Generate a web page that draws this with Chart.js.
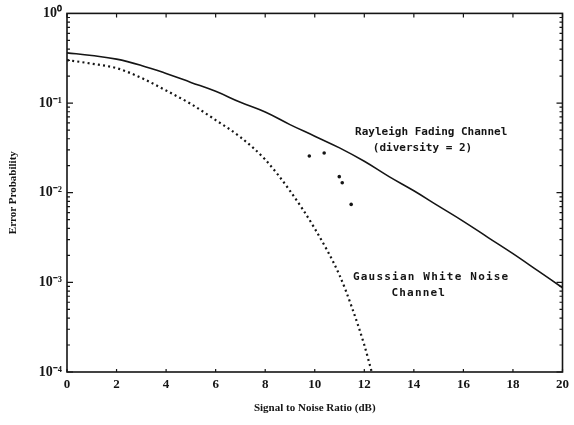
<!DOCTYPE html>
<html>
<head>
<meta charset="utf-8">
<script src="https://cdn.jsdelivr.net/npm/chart.js@4/dist/chart.umd.min.js"></script>
<style>
  html, body { margin: 0; padding: 0; background: #fff; }
  #wrap { width: 574px; height: 425px; }
</style>
</head>
<body>
<div id="wrap"><canvas id="grafico"></canvas></div>
<script>
// Dados
const snrRayleigh = [0, 1, 2, 3, 4, 5, 6, 7, 8, 9, 10, 11, 12, 13, 14, 15, 16, 17, 18, 19, 20];
const erroRayleigh = [0.363, 0.339, 0.309, 0.263, 0.214, 0.170, 0.135, 0.102, 0.0794, 0.0575, 0.0427,
  0.0316, 0.0224, 0.0151, 0.0105, 0.00708, 0.00479, 0.00316, 0.00209, 0.00135, 0.00087];

const snrGauss = [0, 1, 2, 3, 4, 5, 6, 7, 8, 9, 10, 11, 11.5, 12, 12.3];
const erroGauss = [0.302, 0.275, 0.245, 0.191, 0.138, 0.0977, 0.0646, 0.0417, 0.0234, 0.0105,
  0.00398, 0.00120, 0.000525, 0.000200, 0.0001];

const snrPontos = [9.78, 10.38, 10.99, 11.11, 11.47];
const erroPontos = [0.0257, 0.0277, 0.0151, 0.0129, 0.0074];

const xTicks = [0, 2, 4, 6, 8, 10, 12, 14, 16, 18, 20];
const yTicks = [1e-4, 1e-3, 1e-2, 1e-1, 1];
const yTickLabels = ['10⁻⁴', '10⁻³', '10⁻²', '10⁻¹', '10⁰'];

const notasTexto = ['Rayleigh Fading Channel', '(diversity = 2)', 'Gaussian White Noise', 'Channel'];
const notasX = [14.7, 14.35, 14.7, 14.2];
const notasY = [0.047, 0.0316, 0.00115, 0.00076];

const preto = '#151515';

const pares = (xs, ys) => xs.map((x, i) => ({ x: x, y: ys[i] }));

// Moldura, marcas dos eixos e textos
const moldura = {
  id: 'moldura',
  afterDraw(chart) {
    const ctx = chart.ctx;
    const a = chart.chartArea;
    const sx = chart.scales.x;
    const sy = chart.scales.y;
    ctx.save();
    ctx.strokeStyle = preto;
    ctx.lineWidth = 1.6;
    ctx.strokeRect(a.left, a.top, a.right - a.left, a.bottom - a.top);

    ctx.lineWidth = 1.2;
    ctx.beginPath();
    xTicks.forEach(v => {
      const px = sx.getPixelForValue(v);
      ctx.moveTo(px, a.top); ctx.lineTo(px, a.top + 4);
      ctx.moveTo(px, a.bottom); ctx.lineTo(px, a.bottom - 3);
    });
    for (let e = -4; e < 0; e++) {
      for (let m = 1; m <= 9; m++) {
        const py = sy.getPixelForValue(m * Math.pow(10, e));
        const len = m === 1 ? 6 : 3;
        ctx.moveTo(a.left, py); ctx.lineTo(a.left + len, py);
        ctx.moveTo(a.right, py); ctx.lineTo(a.right - len, py);
      }
    }
    ctx.stroke();

    ctx.fillStyle = preto;
    ctx.font = 'bold 11px "DejaVu Sans Mono"';
    ctx.textAlign = 'center';
    ctx.textBaseline = 'middle';
    notasTexto.forEach((t, i) => {
      ctx.letterSpacing = i >= 2 ? '1.2px' : '0px';
      ctx.fillText(t, sx.getPixelForValue(notasX[i]), sy.getPixelForValue(notasY[i]));
    });
    ctx.restore();
  }
};

new Chart(document.getElementById('grafico'), {
  type: 'line',
  data: {
    datasets: [
      {
        label: 'Rayleigh Fading Channel (diversity = 2)',
        data: pares(snrRayleigh, erroRayleigh),
        borderColor: preto,
        borderWidth: 1.6,
        pointRadius: 0,
        tension: 0.4
      },
      {
        label: 'Gaussian White Noise Channel',
        data: pares(snrGauss, erroGauss),
        borderColor: preto,
        borderWidth: 2.2,
        borderDash: [2, 3.2],
        pointRadius: 0,
        cubicInterpolationMode: 'monotone'
      },
      {
        label: 'pontos',
        data: pares(snrPontos, erroPontos),
        showLine: false,
        pointRadius: 1.8,
        pointBackgroundColor: preto,
        pointBorderWidth: 0
      }
    ]
  },
  options: {
    responsive: true,
    maintainAspectRatio: false,
    animation: false,
    layout: { padding: { top: 12, right: 11, left: 0, bottom: 0 } },
    plugins: {
      legend: { display: false },
      tooltip: { enabled: false }
    },
    scales: {
      x: {
        type: 'linear',
        min: 0,
        max: 20,
        afterBuildTicks: s => { s.ticks = xTicks.map(v => ({ value: v })); },
        afterFit: s => { s.height = 53; },
        grid: { display: false, drawTicks: false },
        border: { display: false },
        ticks: {
          autoSkip: false,
          maxRotation: 0,
          padding: 5,
          color: preto,
          font: { family: '"Liberation Serif"', size: 13, weight: 'bold' }
        },
        title: {
          display: true,
          text: 'Signal to Noise Ratio (dB)',
          color: preto,
          padding: { top: 0, bottom: 10 },
          font: { family: '"Liberation Serif"', size: 11, weight: 'bold' }
        }
      },
      y: {
        type: 'logarithmic',
        min: 1e-4,
        max: 1,
        afterBuildTicks: s => { s.ticks = yTicks.map(v => ({ value: v })); },
        afterFit: s => { s.width = 67; },
        grid: { display: false, drawTicks: false },
        border: { display: false },
        ticks: {
          autoSkip: false,
          padding: 5,
          color: preto,
          font: { family: '"Liberation Serif"', size: 14, weight: 'bold' },
          callback: (v, i) => yTickLabels[i]
        },
        title: {
          display: true,
          text: 'Error Probability',
          color: preto,
          padding: { top: 7, bottom: 0 },
          font: { family: '"Liberation Serif"', size: 11, weight: 'bold' }
        }
      }
    }
  },
  plugins: [moldura]
});
</script>
</body>
</html>
